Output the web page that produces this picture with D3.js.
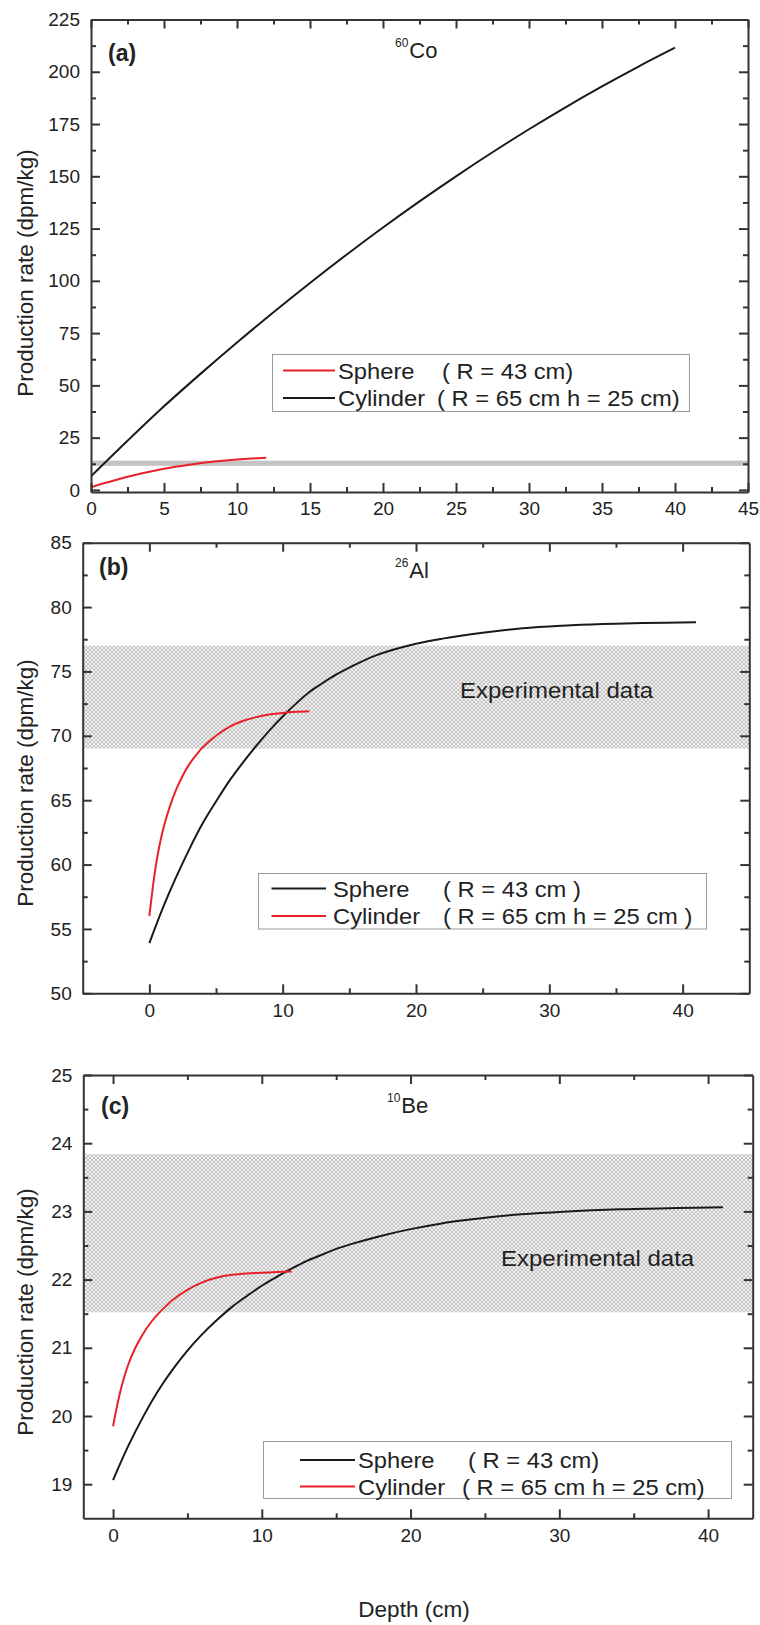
<!DOCTYPE html>
<html>
<head>
<meta charset="utf-8">
<script src="https://cdn.jsdelivr.net/npm/d3@7/dist/d3.min.js"></script>
<style>
  html, body { margin: 0; padding: 0; background: #fff; }
  svg { display: block; }
  text { font-family: "Liberation Sans", Arial, sans-serif; fill: #222; }
</style>
</head>
<body>
<svg id="chart" width="760" height="1625"></svg>
<script>
// ---------------- DATA ----------------
const panelLabels = ["(a)", "(b)", "(c)"];
const isotopeMass = ["60", "26", "10"];
const isotopeSymbol = ["Co", "Al", "Be"];
const yAxisTitle = "Production rate (dpm/kg)";
const xAxisTitle = "Depth (cm)";
const bandText = "Experimental data";

// Panel (a) 60Co
const aSphereDepth = [0, 1, 2, 3, 4, 5, 6, 7, 8, 9, 10, 11, 12];
const aSphereRate  = [1.2, 3.4, 5.3, 7.1, 8.7, 10.1, 11.3, 12.3, 13.2, 13.9, 14.5, 15.0, 15.4];
const aCylDepth = [0, 2.5, 5, 7.5, 10, 12.5, 15, 17.5, 20, 22.5, 25, 27.5, 30, 32.5, 35, 37.5, 40];
const aCylRate  = [6.5, 23.5, 40, 55.5, 70.5, 85, 99, 112.5, 125.5, 138, 150, 161.5, 172.5, 183, 193, 202.5, 211.5];
const aBand = [11.5, 14.0];
const aXTicks = [0, 5, 10, 15, 20, 25, 30, 35, 40, 45];
const aYTicks = [0, 25, 50, 75, 100, 125, 150, 175, 200, 225];
const aLegendNames = ["Sphere", "Cylinder"];
const aLegendParams = ["( R = 43 cm)", "( R = 65 cm h = 25 cm)"];

// Panel (b) 26Al
const bSphereDepth = [0, 1, 2, 3, 4, 5, 6, 7, 8, 9, 10, 11, 12, 13, 14, 15, 17, 20, 22, 25, 28, 31, 34, 37, 41];
const bSphereRate  = [53.9, 56.6, 59.0, 61.2, 63.2, 64.9, 66.5, 67.9, 69.2, 70.4, 71.5, 72.5, 73.4, 74.1, 74.75, 75.3, 76.25, 77.15, 77.55, 78.0, 78.35, 78.55, 78.68, 78.76, 78.82];
const bCylDepth = [0, 0.5, 1, 1.5, 2, 2.5, 3, 3.5, 4, 5, 6, 7, 8, 9, 10, 11, 12];
const bCylRate  = [56.0, 60.0, 62.6, 64.4, 65.8, 66.9, 67.8, 68.5, 69.1, 70.0, 70.7, 71.15, 71.45, 71.65, 71.78, 71.86, 71.9];
const bBand = [69.0, 77.0];
const bXTicks = [0, 10, 20, 30, 40];
const bYTicks = [50, 55, 60, 65, 70, 75, 80, 85];
const bLegendNames = ["Sphere", "Cylinder"];
const bLegendParams = ["( R = 43 cm )", "( R = 65 cm h = 25 cm )"];

// Panel (c) 10Be
const cSphereDepth = [0, 1, 2, 3, 4, 5, 6, 7, 8, 9, 10, 11, 12, 13, 14, 15, 16, 18, 20, 22, 24, 27, 30, 34, 38, 41];
const cSphereRate  = [19.06, 19.55, 19.98, 20.36, 20.68, 20.96, 21.2, 21.41, 21.6, 21.76, 21.91, 22.04, 22.16, 22.27, 22.36, 22.45, 22.52, 22.64, 22.74, 22.82, 22.88, 22.95, 22.99, 23.03, 23.05, 23.06];
const cCylDepth = [0, 0.5, 1, 1.5, 2, 2.5, 3, 3.5, 4, 5, 6, 7, 8, 9, 10, 11, 12];
const cCylRate  = [19.85, 20.37, 20.74, 21.0, 21.2, 21.36, 21.49, 21.6, 21.7, 21.85, 21.96, 22.03, 22.07, 22.09, 22.1, 22.11, 22.12];
const cBand = [21.52, 23.84];
const cXTicks = [0, 10, 20, 30, 40];
const cYTicks = [19, 20, 21, 22, 23, 24, 25];
const cLegendNames = ["Sphere", "Cylinder"];
const cLegendParams = ["( R = 43 cm)", "( R = 65 cm h = 25 cm)"];

// ---------------- DRAW ----------------
const svg = d3.select("#chart");
const RED = "#e8202a", BLACK = "#1a1a1a", AXIS = "#333";

const defs = svg.append("defs");
const pat = defs.append("pattern").attr("id", "hatch")
  .attr("patternUnits", "userSpaceOnUse").attr("width", 4).attr("height", 4);
pat.append("rect").attr("width", 4).attr("height", 4).attr("fill", "#f1f1f1");
pat.append("path").attr("d", "M0,0 L4,4 M4,0 L0,4 M-1,3 L1,5 M3,-1 L5,1 M-1,1 L1,-1 M3,5 L5,3")
  .attr("stroke", "#c4c4c4").attr("stroke-width", 1);

function zip(xs, ys) { return xs.map((d, i) => [d, ys[i]]); }

function drawPanel(cfg) {
  const x = d3.scaleLinear().domain(cfg.xDomain).range(cfg.xRange);
  const y = d3.scaleLinear().domain(cfg.yDomain).range(cfg.yRange);
  const g = svg.append("g");
  const [x0, x1] = cfg.xRange, [y0, y1] = cfg.yRange; // y0 bottom, y1 top

  const clipId = "clip" + cfg.id;
  defs.append("clipPath").attr("id", clipId).append("rect")
    .attr("x", x0).attr("y", y1).attr("width", x1 - x0).attr("height", y0 - y1);

  // band
  if (cfg.band) {
    g.append("rect")
      .attr("x", x0).attr("width", x1 - x0)
      .attr("y", y(cfg.band[1])).attr("height", y(cfg.band[0]) - y(cfg.band[1]))
      .attr("fill", cfg.bandFill);
  }
  if (cfg.bandLabel) {
    g.append("text").attr("transform", `translate(${cfg.bandLabel[0]},${cfg.bandLabel[1]}) scale(1.09,1)`)
      .attr("font-size", 22).text(bandText);
  }

  // curves
  const line = d3.line().x(d => x(d[0])).y(d => y(d[1])).curve(d3.curveCatmullRom.alpha(0.5));
  cfg.series.forEach(s => {
    g.append("path").datum(zip(s.x, s.y)).attr("d", line)
      .attr("fill", "none").attr("stroke", s.color).attr("stroke-width", 2)
      .attr("clip-path", `url(#${clipId})`);
  });

  // axes
  const styleAxis = sel => {
    sel.selectAll(".domain").attr("stroke", AXIS).attr("stroke-width", 2);
    sel.selectAll(".tick line").attr("stroke", AXIS).attr("stroke-width", 2);
    sel.selectAll(".tick text").attr("font-family", "Liberation Sans, Arial, sans-serif")
      .attr("font-size", 19).attr("fill", "#222");
  };
  const fmt = cfg.yFormat || null;
  const xb = g.append("g").attr("transform", `translate(0,${y0})`)
    .call(d3.axisBottom(x).tickValues(cfg.xTicks).tickSize(-9).tickSizeOuter(0).tickPadding(10));
  styleAxis(xb);
  const xt = g.append("g").attr("transform", `translate(0,${y1})`)
    .call(d3.axisTop(x).tickValues(cfg.xTicks).tickSize(-9).tickSizeOuter(0).tickFormat(""));
  styleAxis(xt);
  const yl = g.append("g").attr("transform", `translate(${x0},0)`)
    .call(d3.axisLeft(y).tickValues(cfg.yTicks).tickSize(-9).tickSizeOuter(0).tickPadding(11).tickFormat(fmt));
  styleAxis(yl);
  const yr = g.append("g").attr("transform", `translate(${x1},0)`)
    .call(d3.axisRight(y).tickValues(cfg.yTicks).tickSize(-9).tickSizeOuter(0).tickFormat(""));
  styleAxis(yr);

  // minor ticks
  const minor = (vals, axisFn, tr) => {
    const m = g.append("g").attr("transform", tr)
      .call(axisFn.tickValues(vals).tickSize(-5).tickSizeOuter(0).tickFormat(""));
    m.select(".domain").remove();
    m.selectAll(".tick line").attr("stroke", AXIS).attr("stroke-width", 2);
  };
  const mid = arr => arr.slice(0, -1).map((v, i) => (v + arr[i + 1]) / 2);
  const xMinor = mid(cfg.xTicks).concat(cfg.xExtraMinor || []).filter(v => v > cfg.xDomain[0] && v < cfg.xDomain[1]);
  const yMinor = mid(cfg.yTicks).concat(cfg.yExtraMinor || []).filter(v => v > cfg.yDomain[0] && v < cfg.yDomain[1]);
  minor(xMinor, d3.axisBottom(x), `translate(0,${y0})`);
  minor(xMinor, d3.axisTop(x), `translate(0,${y1})`);
  minor(yMinor, d3.axisLeft(y), `translate(${x0},0)`);
  minor(yMinor, d3.axisRight(y), `translate(${x1},0)`);

  // panel letter
  g.append("text").attr("x", cfg.letterPos[0]).attr("y", cfg.letterPos[1])
    .attr("font-family", "Liberation Serif, Times New Roman, serif").attr("font-weight", "bold")
    .attr("font-size", 23).text(cfg.letter);

  // isotope
  const iso = g.append("text").attr("x", cfg.isoPos[0]).attr("y", cfg.isoPos[1]).attr("font-size", 22);
  iso.append("tspan").attr("font-size", 12).attr("dy", -11).text(cfg.isoMass);
  iso.append("tspan").attr("dy", 11).attr("dx", 1).text(cfg.isoSym);

  // y title
  g.append("text").attr("transform", `translate(${cfg.yTitlePos[0]},${cfg.yTitlePos[1]}) rotate(-90)`)
    .attr("text-anchor", "middle").attr("font-size", 22.5).text(yAxisTitle);

  // legend
  const L = cfg.legend;
  g.append("rect").attr("x", L.box[0]).attr("y", L.box[1]).attr("width", L.box[2]).attr("height", L.box[3])
    .attr("fill", "#fff").attr("stroke", "#9a9a9a").attr("stroke-width", 1);
  L.items.forEach((it, i) => {
    const ry = L.rows[i];
    g.append("line").attr("x1", L.lineX[0]).attr("x2", L.lineX[1]).attr("y1", ry).attr("y2", ry)
      .attr("stroke", it.color).attr("stroke-width", 2);
    g.append("text").attr("transform", `translate(${L.textX},${ry + 8}) scale(1.08,1)`)
      .attr("font-size", 22).text(it.name);
    g.append("text").attr("transform", `translate(${L.paramX[i]},${ry + 8}) scale(1.08,1)`)
      .attr("font-size", 22).text(it.param);
  });
  return { x, y };
}

drawPanel({
  id: "a", xDomain: [0, 45], xRange: [91, 748], yDomain: [-1, 225], yRange: [492, 19.5],
  xTicks: aXTicks, yTicks: aYTicks,
  band: aBand, bandFill: "#c4c4c4",
  series: [
    { x: aCylDepth, y: aCylRate, color: BLACK },
    { x: aSphereDepth, y: aSphereRate, color: RED }
  ],
  letter: panelLabels[0], letterPos: [108, 61],
  isoMass: isotopeMass[0], isoSym: isotopeSymbol[0], isoPos: [395, 58],
  yTitlePos: [33, 273],
  legend: {
    box: [272.5, 354.5, 417, 57], rows: [370.5, 398], lineX: [283, 335], textX: 338,
    paramX: [442, 437],
    items: [
      { color: RED, name: aLegendNames[0], param: aLegendParams[0] },
      { color: BLACK, name: aLegendNames[1], param: aLegendParams[1] }
    ]
  }
});

drawPanel({
  id: "b", xDomain: [-5, 45], xRange: [82.7, 749.3], yDomain: [50, 85], yRange: [993.3, 542.7],
  xTicks: bXTicks, yTicks: bYTicks, xExtraMinor: [45],
  band: bBand, bandFill: "url(#hatch)", bandLabel: [460, 698],
  series: [
    { x: bSphereDepth, y: bSphereRate, color: BLACK },
    { x: bCylDepth, y: bCylRate, color: RED }
  ],
  letter: panelLabels[1], letterPos: [99, 575],
  isoMass: isotopeMass[1], isoSym: isotopeSymbol[1], isoPos: [395, 578],
  yTitlePos: [33, 783],
  legend: {
    box: [258.5, 873.5, 448, 55.5], rows: [888.5, 916], lineX: [271.5, 326], textX: 333,
    paramX: [443, 443],
    items: [
      { color: BLACK, name: bLegendNames[0], param: bLegendParams[0] },
      { color: RED, name: bLegendNames[1], param: bLegendParams[1] }
    ]
  }
});

drawPanel({
  id: "c", xDomain: [-2, 43], xRange: [83.3, 752.7], yDomain: [18.5, 25], yRange: [1518.3, 1075],
  xTicks: cXTicks, yTicks: cYTicks, yExtraMinor: [18.5], yFormat: d3.format("d"),
  band: cBand, bandFill: "url(#hatch)", bandLabel: [501, 1266],
  series: [
    { x: cSphereDepth, y: cSphereRate, color: BLACK },
    { x: cCylDepth, y: cCylRate, color: RED }
  ],
  letter: panelLabels[2], letterPos: [101, 1114],
  isoMass: isotopeMass[2], isoSym: isotopeSymbol[2], isoPos: [387, 1113],
  yTitlePos: [33, 1312],
  legend: {
    box: [263.5, 1441.5, 468, 57], rows: [1460, 1486.5], lineX: [300, 355], textX: 358,
    paramX: [468, 462],
    items: [
      { color: BLACK, name: cLegendNames[0], param: cLegendParams[0] },
      { color: RED, name: cLegendNames[1], param: cLegendParams[1] }
    ]
  }
});

// x axis title
svg.append("text").attr("x", 414).attr("y", 1617).attr("text-anchor", "middle")
  .attr("font-size", 22.5).text(xAxisTitle);
</script>
</body>
</html>
